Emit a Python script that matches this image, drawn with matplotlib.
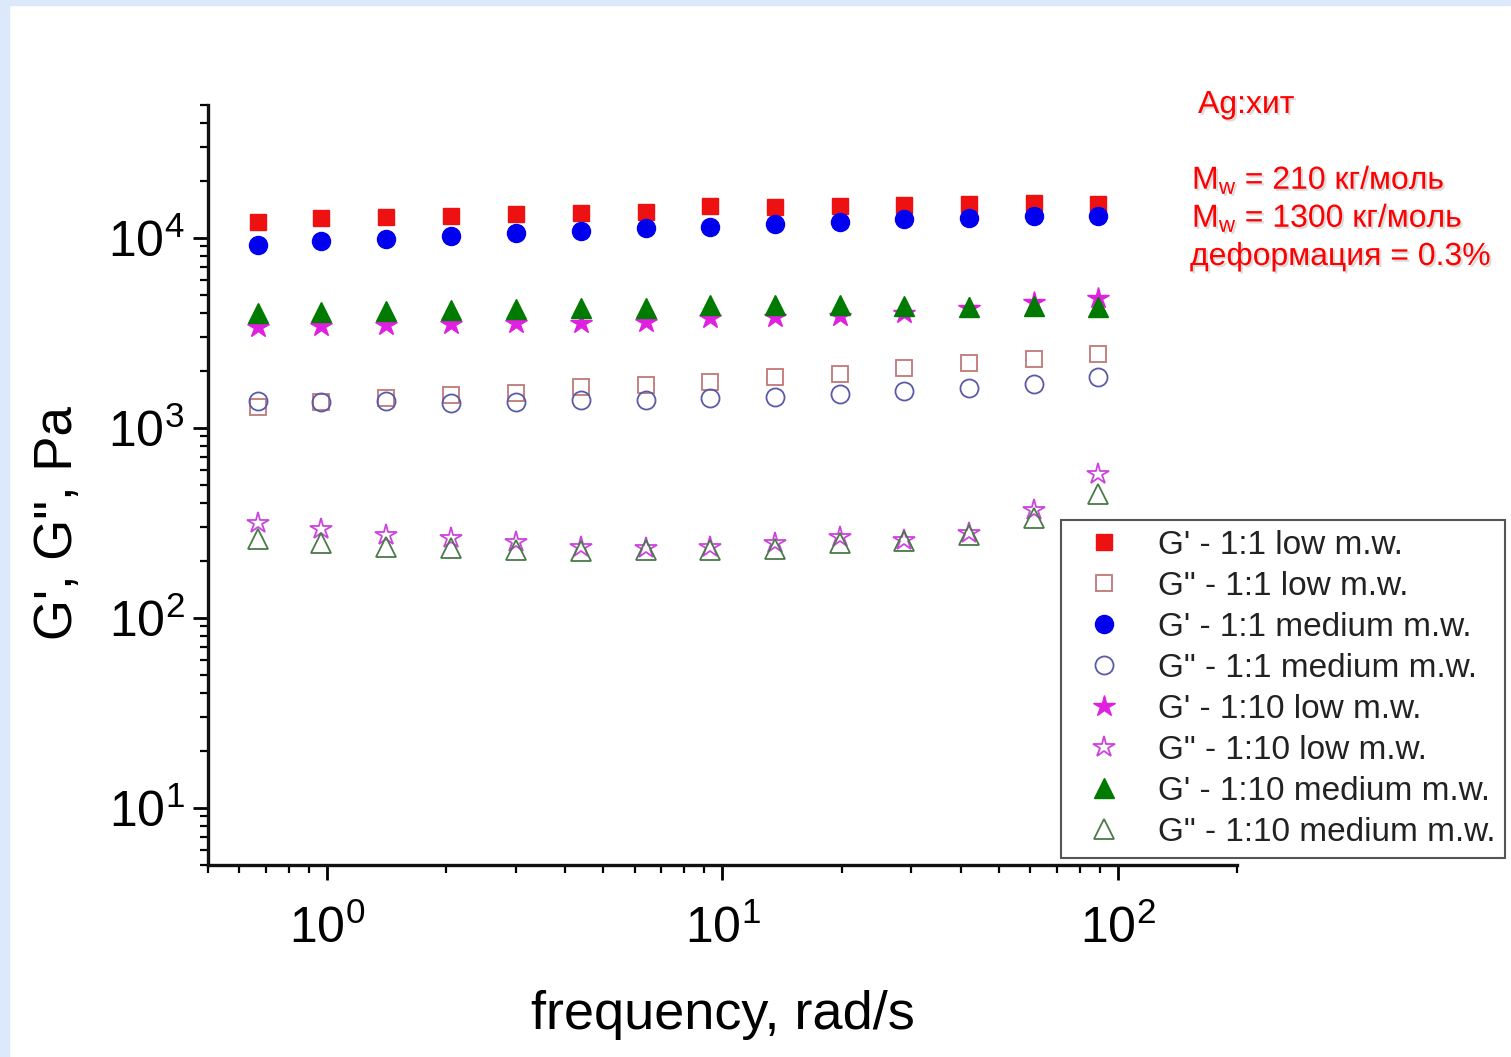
import matplotlib
matplotlib.use("Agg")
import matplotlib.pyplot as plt
import matplotlib.patheffects as pe
from matplotlib.patches import Rectangle
from matplotlib.ticker import LogLocator

plt.rcParams['font.family'] = ['Liberation Sans', 'DejaVu Sans']
plt.rcParams['mathtext.default'] = 'regular'

# frequency, rad/s
freq = [0.668, 0.968, 1.41, 2.06, 3.01, 4.39, 6.40, 9.29, 13.6, 19.8, 28.8, 42.0, 61.3, 88.9]

g1_1_low = [12150, 12740, 12900, 13060, 13380, 13540, 13700, 14730, 14560, 14730, 14920, 15100, 15290, 15100]
g2_1_low = [1291, 1372, 1438, 1493, 1528, 1643, 1683, 1746, 1855, 1924, 2070, 2200, 2307, 2449]
g1_1_med = [9190, 9640, 9880, 10250, 10620, 10880, 11290, 11430, 11850, 12150, 12590, 12740, 13060, 13060]
g2_1_med = [1388, 1372, 1388, 1355, 1372, 1405, 1405, 1438, 1456, 1510, 1566, 1624, 1706, 1855]
g1_10_low = [3400, 3440, 3480, 3530, 3570, 3570, 3610, 3790, 3840, 3880, 4030, 4250, 4600, 4830]
g2_10_low = [316, 294, 273, 264, 251, 236, 234, 236, 248, 267, 258, 280, 370, 573]
g1_10_med = [4030, 4080, 4130, 4180, 4230, 4280, 4280, 4440, 4440, 4440, 4380, 4330, 4380, 4330]
g2_10_med = [261, 248, 236, 234, 228, 225, 228, 228, 231, 248, 254, 273, 336, 450]

labels = ["G' - 1:1 low m.w.", 'G" - 1:1 low m.w.',
          "G' - 1:1 medium m.w.", 'G" - 1:1 medium m.w.',
          "G' - 1:10 low m.w.", 'G" - 1:10 low m.w.',
          "G' - 1:10 medium m.w.", 'G" - 1:10 medium m.w.']

fig = plt.figure(figsize=(15.11, 10.57), dpi=100)
fig.patches.append(Rectangle((0, 1 - 5 / 1057), 1, 5 / 1057, transform=fig.transFigure,
                             color='#dce9fb', zorder=-1))
fig.patches.append(Rectangle((0, 0), 9 / 1511, 1, transform=fig.transFigure,
                             color='#dce9fb', zorder=-1))

ax = fig.add_axes([208 / 1511, 1 - 865 / 1057, (1237 - 208) / 1511, (865 - 105) / 1057])

series = [
    (g1_1_low, dict(marker='s', ms=11, color='#ee1111', ls='none')),
    (g2_1_low, dict(marker='s', ms=11, mfc='none', mec='#c07878', mew=1.3, ls='none')),
    (g1_1_med, dict(marker='o', ms=13, color='#0000ee', ls='none')),
    (g2_1_med, dict(marker='o', ms=13, mfc='none', mec='#5a5aa8', mew=1.3, ls='none')),
    (g1_10_low, dict(marker='*', ms=16, color='#e020e0', ls='none')),
    (g2_10_low, dict(marker='*', ms=16, mfc='none', mec='#cc44dd', mew=1.3, ls='none')),
    (g1_10_med, dict(marker='^', ms=14, color='#007a00', ls='none')),
    (g2_10_med, dict(marker='^', ms=14, mfc='none', mec='#4a7a4a', mew=1.3, ls='none')),
]
for (vals, kw), lab in zip(series, labels):
    ax.plot(freq, vals, label=lab, **kw)

ax.set_xscale('log')
ax.set_yscale('log')
ax.set_xlim(0.5, 200)
ax.set_ylim(5, 5e4)
ax.xaxis.set_major_locator(LogLocator(base=10, numticks=10))
ax.yaxis.set_major_locator(LogLocator(base=10, numticks=10))
ax.xaxis.set_minor_locator(LogLocator(base=10, subs=range(2, 10), numticks=20))
ax.yaxis.set_minor_locator(LogLocator(base=10, subs=range(2, 10), numticks=20))

for s in ['top', 'right']:
    ax.spines[s].set_visible(False)
for s in ['left', 'bottom']:
    ax.spines[s].set_linewidth(2.4)
    ax.spines[s].set_color('#111111')

ax.tick_params(which='major', direction='out', length=11, width=2, labelsize=36, pad=6)
ax.tick_params(which='minor', direction='out', length=6, width=1.6)
ax.tick_params(axis='x', which='major', pad=18)

ax.set_xlabel('frequency, rad/s', fontsize=39)
ax.xaxis.set_label_coords(0.5, -0.164)
ax.set_ylabel('G\', G", Pa', fontsize=38)
ax.yaxis.set_label_coords(-0.121, 0.45)

leg = ax.legend(loc='lower right', bbox_to_anchor=(1505 / 1511, 1 - 858 / 1057),
                bbox_transform=fig.transFigure, borderaxespad=0, fontsize=24,
                fancybox=False, framealpha=1, edgecolor='#555555',
                labelspacing=0.3, handletextpad=0.6, borderpad=0.3, handlelength=2.0,
                markerscale=1.0)
leg.get_frame().set_linewidth(1.5)
for t in leg.get_texts():
    t.set_color('#222222')

shadow = [pe.withSimplePatchShadow(offset=(1.5, -1.5), shadow_rgbFace='#999999', alpha=0.35)]
fig.text(1198 / 1511, 1 - 105 / 1057, 'Ag:хит', color='red', fontsize=23,
         va='center', ha='left', path_effects=shadow)
fig.text(1192 / 1511, 1 - 180 / 1057, 'M$_w$ = 210 кг/моль', color='red', fontsize=23,
         va='center', ha='left', path_effects=shadow)
fig.text(1192 / 1511, 1 - 218 / 1057, 'M$_w$ = 1300 кг/моль', color='red', fontsize=23,
         va='center', ha='left', path_effects=shadow)
fig.text(1190 / 1511, 1 - 257 / 1057, 'деформация = 0.3%', color='red', fontsize=23,
         va='center', ha='left', path_effects=shadow)

fig.savefig('out.png', dpi=100)
